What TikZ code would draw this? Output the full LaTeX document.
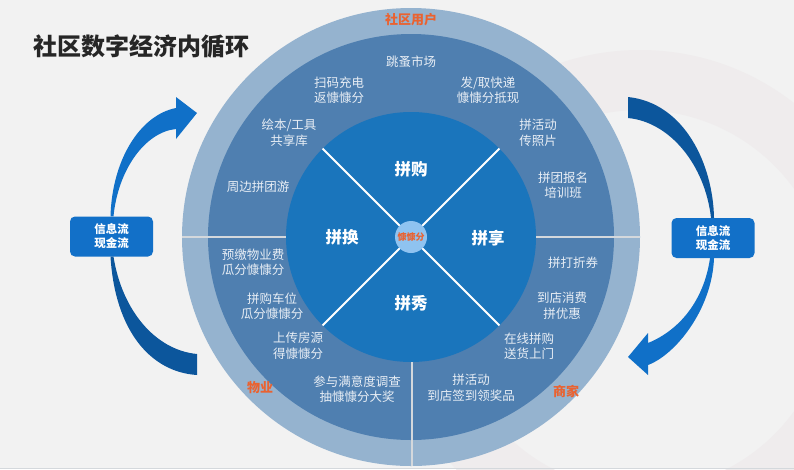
\documentclass[tikz,border=0pt]{standalone}
\usepackage{fontspec}
\setmainfont{Noto Sans CJK SC}
\usetikzlibrary{positioning}

\definecolor{bggray}{HTML}{F2F2F2}
\definecolor{swirl}{HTML}{EFECED}
\definecolor{outerring}{HTML}{95B3CF}
\definecolor{midring}{HTML}{4F7FB0}
\definecolor{innerblue}{HTML}{1A75BC}
\definecolor{hubblue}{HTML}{8FC3F0}
\definecolor{roleorange}{HTML}{EA6230}
\definecolor{ringwhite}{HTML}{E8EEF5}
\definecolor{flowblue}{HTML}{1270C8}
\definecolor{arrowdark}{HTML}{0C569C}
\definecolor{arrowlight}{HTML}{1070C8}
\definecolor{sepgray}{HTML}{D4D8DC}

\begin{document}
\begin{tikzpicture}[x=1pt,y=-1pt,
    ringtext/.style={text=ringwhite, align=center, font=\fontsize{12.5}{15.5}\selectfont},
    sectortext/.style={text=white, font=\bfseries\fontsize{16.5}{18}\selectfont},
    rolelabel/.style={text=roleorange, font=\bfseries\fontsize{13}{15}\selectfont},
    flowbox/.style={fill=flowblue, rounded corners=5pt, minimum width=83pt, minimum height=40pt,
        inner sep=0pt, text=white, align=center, font=\bfseries\fontsize{11.5}{14}\selectfont},
    sepline/.style={sepgray, line width=2pt},
    divider/.style={white, line width=1.8pt}]
    % background
    \fill[bggray] (0,0) rectangle (794,469);
    \useasboundingbox (0,0) rectangle (794,469);
    \begin{scope}
        \clip (0,0) rectangle (794,469);
        \fill[swirl, even odd rule] (640,300) circle[radius=250pt] (640,300) circle[radius=190pt];
    \end{scope}
    \draw[sepgray, line width=1pt] (0,468.5) -- (794,468.5);

    \node[anchor=west, font=\bfseries\fontsize{24}{26}\selectfont, text=black!85] (title) at (30,47) {社区数字经济内循环};

    % rings
    \fill[outerring] (411,237) circle[radius=229pt];
    \fill[midring] (411,237) circle[radius=203pt];
    \fill[innerblue] (411,237) circle[radius=125pt];
    \draw[sepline] (182,237) -- (286,237);
    \draw[sepline] (536,237) -- (640,237);
    \draw[sepline] (412,362) -- (412,466);

    \node[circle, fill=hubblue, minimum size=32pt, inner sep=0pt] (hub) at (411,237) {};
    \foreach \a in {45,135,225,315}
        \draw[divider] ([shift={(\a:16pt)}]hub.center) -- ([shift={(\a:125pt)}]hub.center);
    \node[text=roleorange, font=\bfseries\fontsize{9}{10}\selectfont] (hubtext) at (hub) {慷慷分};

    \node[sectortext] (pingou) at (411,169) {拼购};
    \node[sectortext] (pinhuan) at (342,237) {拼换};
    \node[sectortext] (pinxiang) at (488,238) {拼享};
    \node[sectortext] (pinxiu) at (411,303) {拼秀};

    % role labels
    \node[rolelabel] (yonghu) at (411,20) {社区用户};
    \node[rolelabel] (wuye) at (260,388) {物业};
    \node[rolelabel] (shangjia) at (566,391) {商家};

    % ring texts
    \node[ringtext] (tiaozao) at (411,62) {跳蚤市场};
    \node[ringtext] (saoma) at (339,90) {扫码充电\\返慷慷分};
    \node[ringtext] (kuaidi) at (488,90) {发/取快递\\慷慷分抵现};
    \node[ringtext] (huiben) at (289,133) {绘本/工具\\共享库};
    \node[ringtext] (zhaopian) at (538,133) {拼活动\\传照片};
    \node[ringtext] (tuanyou) at (258,187) {周边拼团游};
    \node[ringtext] (peixun) at (563,185) {拼团报名\\培训班};
    \node[ringtext] (wuyefei) at (253,262) {预缴物业费\\瓜分慷慷分};
    \node[ringtext] (zhekou) at (573,263) {拼打折券};
    \node[ringtext] (chewei) at (272,306) {拼购车位\\瓜分慷慷分};
    \node[ringtext] (xiaofei) at (562,306) {到店消费\\拼优惠};
    \node[ringtext] (fangyuan) at (298,346) {上传房源\\得慷慷分};
    \node[ringtext] (songhuo) at (529,346) {在线拼购\\送货上门};
    \node[ringtext] (diaocha) at (357,389) {参与满意度调查\\抽慷慷分大奖};
    \node[ringtext] (qiandao) at (471,388) {拼活动\\到店签到领奖品};

    % flow boxes
    \node[flowbox] (lbox) at (111.5,236.5) {信息流\\现金流};
    \node[flowbox] (rbox) at (713,238) {信息流\\现金流};

    % curved arrows
    \fill[arrowlight] ([xshift=-1pt]lbox.north) .. controls (112,160) and (140,115) .. (176,108)
        -- (176,97) -- (197,113) -- (176,139) -- (176,129)
        .. controls (145,132) and (118,170) .. ([xshift=2pt]lbox.north) -- cycle;
    \fill[arrowdark] ([xshift=-1pt]lbox.south) .. controls (115,330) and (150,372) .. (197,375)
        -- (197,354) .. controls (155,350) and (122,310) .. ([xshift=2pt]lbox.south) -- cycle;
    \fill[arrowdark] (628,97) -- (628,118) .. controls (670,122) and (705,165) .. ([xshift=-2pt]rbox.north)
        -- ([xshift=1pt]rbox.north) .. controls (713,165) and (685,103) .. (628,97) -- cycle;
    \fill[arrowlight] ([xshift=1pt]rbox.south) .. controls (712,310) and (675,355) .. (648,365)
        -- (648,375) -- (628,357) -- (648,333) -- (648,343)
        .. controls (680,330) and (704,300) .. ([xshift=-3pt]rbox.south) -- cycle;
\end{tikzpicture}
\end{document}
